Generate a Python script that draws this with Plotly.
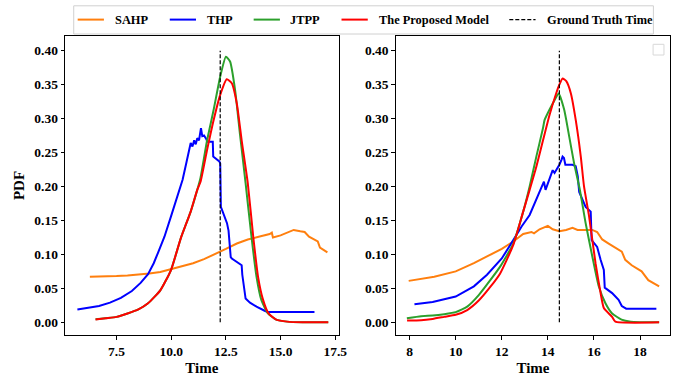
import plotly.graph_objects as go

# ---------------- data ----------------
series_names = ["SAHP", "THP", "JTPP", "The Proposed Model", "Ground Truth Time"]
series_colors = ["#ff7f0e", "#0000ff", "#2ca02c", "#ff0000", "#000000"]

# Left panel
sahp_l_x = [6.28, 7.0, 7.5, 8.0, 8.5, 9.0, 9.5, 10.0, 10.5, 11.0, 11.5, 12.0, 12.5, 13.0, 13.5,
            14.0, 14.5, 14.6, 14.65, 15.0, 15.3, 15.6, 15.9, 16.1, 16.3, 16.5, 16.7, 16.8, 17.0, 17.14]
sahp_l_y = [0.067, 0.067, 0.068, 0.069, 0.070, 0.072, 0.074, 0.078, 0.082, 0.087, 0.093, 0.100, 0.108,
            0.116, 0.122, 0.126, 0.130, 0.132, 0.125, 0.128, 0.132, 0.136, 0.134, 0.133, 0.126, 0.123,
            0.119, 0.110, 0.106, 0.103]

thp_l_x = [5.71, 6.2, 6.7, 7.2, 7.7, 8.2, 8.6, 8.94, 9.2, 9.39, 9.69, 9.99, 10.29, 10.52, 10.7, 10.82,
           10.89, 10.97, 11.05, 11.12, 11.19, 11.27, 11.33, 11.36, 11.42, 11.5, 11.6, 11.65, 11.9, 11.92,
           12.2, 12.24, 12.27, 12.4, 12.55, 12.62, 12.66, 12.72, 12.77, 13.22, 13.25, 13.29, 13.4,
           13.6, 13.9, 14.27, 14.4, 16.55]
thp_l_y = [0.019, 0.021, 0.024, 0.029, 0.036, 0.046, 0.058, 0.071, 0.087, 0.102, 0.126, 0.156, 0.187,
           0.210, 0.236, 0.256, 0.264, 0.259, 0.268, 0.262, 0.271, 0.268, 0.278, 0.286, 0.274, 0.275,
           0.270, 0.266, 0.266, 0.244, 0.237, 0.234, 0.170, 0.160, 0.146, 0.135, 0.117, 0.096, 0.094,
           0.084, 0.070, 0.062, 0.035, 0.029, 0.023, 0.017, 0.015, 0.015]

jtpp_l_x = [6.54, 7.0, 7.5, 8.0, 8.5, 8.94, 9.5, 9.99, 10.44, 10.89, 11.19, 11.34, 11.64, 11.94, 12.24,
            12.5, 12.69, 12.92, 13.14, 13.4, 13.67, 13.9, 14.12, 14.42, 14.8, 15.3, 16.0, 17.18]
jtpp_l_y = [0.0044, 0.006, 0.008, 0.013, 0.019, 0.028, 0.047, 0.077, 0.124, 0.163, 0.195, 0.213, 0.268,
            0.313, 0.362, 0.391, 0.384, 0.342, 0.278, 0.205, 0.126, 0.067, 0.033, 0.013, 0.004, 0.001,
            0.0, 0.0]

prop_l_x = [6.54, 7.0, 7.5, 8.0, 8.5, 8.94, 9.5, 9.99, 10.44, 10.89, 11.19, 11.34, 11.64, 11.94, 12.24,
            12.54, 12.77, 13.0, 13.22, 13.5, 13.75, 13.97, 14.2, 14.45, 14.8, 15.3, 16.0, 17.18]
prop_l_y = [0.004, 0.006, 0.008, 0.013, 0.019, 0.028, 0.047, 0.077, 0.124, 0.163, 0.195, 0.207, 0.254,
            0.298, 0.335, 0.358, 0.352, 0.322, 0.268, 0.205, 0.126, 0.067, 0.033, 0.013, 0.004, 0.001,
            0.0, 0.0]

gt_l = 12.24

# Right panel
sahp_r_x = [7.96, 9.07, 10.0, 10.79, 11.36, 12.0, 12.5, 12.93, 13.29, 13.4, 13.64, 14.0, 14.21, 14.5,
            14.79, 15.07, 15.29, 15.93, 16.14, 16.36, 16.64, 16.93, 17.21, 17.36, 17.64, 18.07, 18.36, 18.83]
sahp_r_y = [0.061, 0.067, 0.075, 0.087, 0.097, 0.108, 0.119, 0.130, 0.133, 0.131, 0.137, 0.142, 0.137,
            0.134, 0.136, 0.139, 0.136, 0.136, 0.133, 0.122, 0.116, 0.110, 0.104, 0.092, 0.084, 0.075,
            0.062, 0.053]

thp_r_x = [8.21, 9.0, 10.0, 10.79, 11.36, 12.0, 12.5, 12.86, 13.21, 13.5, 13.71, 13.83, 13.9, 14.07,
           14.21, 14.29, 14.5, 14.6, 14.64, 14.7, 14.76, 15.07, 15.21, 15.3, 15.36, 15.64, 15.86, 15.9,
           16.14, 16.29, 16.43, 16.47, 16.79, 17.07, 17.21, 17.4, 18.71]
thp_r_y = [0.0265, 0.030, 0.038, 0.053, 0.070, 0.094, 0.121, 0.141, 0.158, 0.180, 0.197, 0.207, 0.195,
           0.210, 0.224, 0.220, 0.232, 0.240, 0.244, 0.242, 0.232, 0.232, 0.230, 0.215, 0.192, 0.170,
           0.163, 0.121, 0.111, 0.092, 0.077, 0.051, 0.043, 0.033, 0.024, 0.020, 0.020]

jtpp_r_x = [7.88, 8.5, 9.0, 9.5, 10.0, 10.5, 11.0, 11.5, 11.93, 12.5, 12.93, 13.21, 13.5, 13.79, 13.86,
            14.07, 14.29, 14.47, 14.71, 14.93, 15.14, 15.39, 15.64, 15.93, 16.21, 16.5, 16.79, 17.2,
            17.6, 18.83]
jtpp_r_y = [0.006, 0.009, 0.010, 0.012, 0.015, 0.023, 0.040, 0.062, 0.082, 0.116, 0.163, 0.200, 0.244,
            0.286, 0.298, 0.313, 0.327, 0.337, 0.313, 0.273, 0.234, 0.195, 0.146, 0.097, 0.053, 0.028,
            0.013, 0.004, 0.001, 0.0]

prop_r_x = [7.89, 8.5, 9.0, 9.5, 10.0, 10.5, 11.0, 11.5, 11.93, 12.5, 12.93, 13.21, 13.5, 13.79, 14.07,
            14.36, 14.5, 14.64, 14.8, 15.0, 15.21, 15.43, 15.57, 15.79, 16.07, 16.29, 16.43, 16.79,
            16.93, 18.83]
prop_r_y = [0.0025, 0.003, 0.005, 0.008, 0.011, 0.018, 0.032, 0.052, 0.072, 0.114, 0.163, 0.195, 0.229,
            0.268, 0.305, 0.337, 0.350, 0.359, 0.355, 0.337, 0.298, 0.244, 0.200, 0.156, 0.087, 0.043,
            0.021, 0.008, 0.001, 0.0]

gt_r = 14.5
gt_y = [0.0, 0.40]

left_xticks = [7.5, 10.0, 12.5, 15.0, 17.5]
left_xticklabels = ["7.5", "10.0", "12.5", "15.0", "17.5"]
right_xticks = [8, 10, 12, 14, 16, 18]
right_xticklabels = ["8", "10", "12", "14", "16", "18"]
yticks = [0.0, 0.05, 0.10, 0.15, 0.20, 0.25, 0.30, 0.35, 0.40]
yticklabels = ["0.00", "0.05", "0.10", "0.15", "0.20", "0.25", "0.30", "0.35", "0.40"]

# ---------------- figure ----------------
W, H = 693, 377
FONT = "Liberation Serif, Times New Roman, serif"

fig = go.Figure()

panels = [
    ("x", "y", [(sahp_l_x, sahp_l_y), (thp_l_x, thp_l_y), (jtpp_l_x, jtpp_l_y), (prop_l_x, prop_l_y)], gt_l),
    ("x2", "y2", [(sahp_r_x, sahp_r_y), (thp_r_x, thp_r_y), (jtpp_r_x, jtpp_r_y), (prop_r_x, prop_r_y)], gt_r),
]
for xa, ya, series, gt in panels:
    for i, (sx, sy) in enumerate(series):
        smooth = i >= 2
        fig.add_trace(go.Scatter(
            x=sx, y=sy, mode="lines", name=series_names[i], showlegend=False,
            xaxis=xa, yaxis=ya,
            line=dict(color=series_colors[i], width=2,
                      shape="spline" if smooth else "linear", smoothing=0.5 if smooth else None),
        ))
    fig.add_trace(go.Scatter(
        x=[gt, gt], y=gt_y, mode="lines", name=series_names[4], showlegend=False,
        xaxis=xa, yaxis=ya, line=dict(color="black", width=1.2, dash="4px,2px"),
    ))

axis_common = dict(
    showline=True, linecolor="black", linewidth=1, mirror=True,
    ticks="outside", ticklen=3.5, tickwidth=1, tickcolor="black",
    showgrid=False, zeroline=False,
    tickfont=dict(family=FONT, size=13.5, color="black", weight="bold"),
)
title_font = dict(family=FONT, size=15, color="black", weight="bold")

yrange = [-0.0187, 0.4216]
ydom = [1 - 335 / H, 1 - 36 / H]

fig.update_layout(
    width=W, height=H,
    margin=dict(l=0, r=0, t=0, b=0),
    paper_bgcolor="white", plot_bgcolor="white",
    showlegend=False,
    xaxis=dict(domain=[66 / W, 343 / W], range=[5.15, 17.65], tickvals=left_xticks,
               ticktext=left_xticklabels, title=dict(text="Time", font=title_font, standoff=4),
               anchor="y", **axis_common),
    yaxis=dict(domain=ydom, range=yrange, tickvals=yticks, ticktext=yticklabels,
               title=dict(text="PDF", font=title_font, standoff=6), anchor="x", **axis_common),
    xaxis2=dict(domain=[401 / W, 679 / W], range=[7.4, 19.31], tickvals=right_xticks,
                ticktext=right_xticklabels, title=dict(text="Time", font=title_font, standoff=4),
                anchor="y2", **axis_common),
    yaxis2=dict(domain=ydom, range=yrange, tickvals=yticks, ticktext=yticklabels,
                anchor="x2", **axis_common),
)

# ---------------- manual figure legend ----------------
def px_x(v):
    return v / W

def px_y(v):
    return 1 - v / H

shapes = [dict(type="rect", xref="paper", yref="paper",
               x0=px_x(74.7), x1=px_x(662), y0=px_y(34), y1=px_y(5.8),
               line=dict(color="#d0d0d0", width=1), fillcolor="white", layer="above")]
annotations = []
line_starts = [78.7, 172, 257, 346, 516]
text_starts = [114.7, 207.6, 292, 382, 552]
ly = px_y(19.6)
for i, name in enumerate(series_names):
    shapes.append(dict(type="line", xref="paper", yref="paper",
                       x0=px_x(line_starts[i]), x1=px_x(line_starts[i] + 26.6), y0=ly, y1=ly,
                       line=dict(color=series_colors[i], width=2 if i < 4 else 1.2,
                                 dash="solid" if i < 4 else "4px,2px"), layer="above"))
    annotations.append(dict(xref="paper", yref="paper", x=px_x(text_starts[i]), y=ly,
                            xanchor="left", yanchor="middle", showarrow=False, text=name,
                            font=dict(family=FONT, size=12.4, color="black", weight="bold")))

# empty axes legend box in the right panel
shapes.append(dict(type="rect", xref="paper", yref="paper",
                   x0=px_x(661.7), x1=px_x(672.7), y0=px_y(55), y1=px_y(44.3),
                   line=dict(color="#d8d8d8", width=1), fillcolor="white", layer="above"))

fig.update_layout(shapes=shapes, annotations=annotations)

fig.write_html(
    "out.html",
    config={"displayModeBar": False},
    post_script="document.body.style.margin='0';document.body.style.padding='0';"
                "document.body.style.overflow='hidden';",
)
